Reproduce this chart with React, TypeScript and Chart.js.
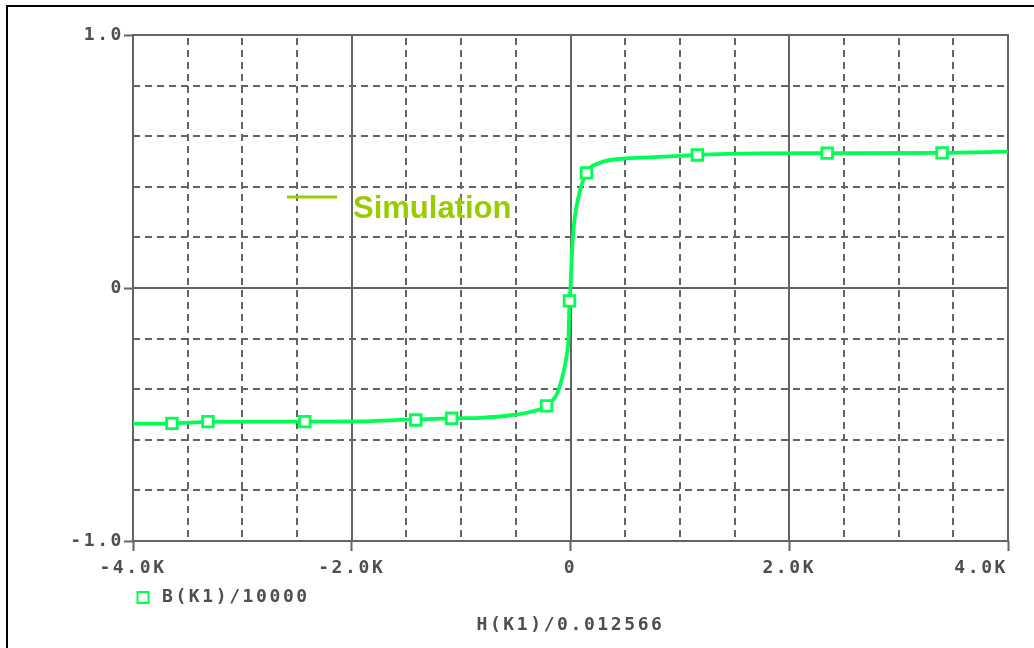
import React, { useEffect, useRef } from "react";
import { Chart, registerables } from "chart.js";

Chart.register(...registerables);

// ---- data ----
const H_CURVE = [-4000, -3644, -3300, -2400, -1900, -1600, -1087, -830, -530, -370, -220, -120, -75, -37, -18, -9, 0, 9, 27, 73, 146, 265, 510, 721, 1000, 1160, 1700, 2350, 3400, 4000];
const B_CURVE = [-0.536, -0.535, -0.529, -0.528, -0.527, -0.522, -0.515, -0.513, -0.502, -0.49, -0.466, -0.415, -0.352, -0.273, -0.194, -0.05, 0.0, 0.099, 0.229, 0.36, 0.455, 0.494, 0.512, 0.516, 0.522, 0.526, 0.532, 0.533, 0.534, 0.539];

const H_MARKERS = [-3644, -3315, -2429, -1415, -1087, -219, -9, 146, 1160, 2347, 3397];
const B_MARKERS = [-0.535, -0.528, -0.528, -0.522, -0.515, -0.466, -0.051, 0.455, 0.526, 0.533, 0.534];

const X_MIN = -4000;
const X_MAX = 4000;
const X_STEP = 500;
const X_TICK_VALUES = [-4000, -2000, 0, 2000, 4000];
const X_TICK_LABELS = ["-4.0K", "-2.0K", "0", "2.0K", "4.0K"];

const Y_MIN = -1;
const Y_MAX = 1;
const Y_STEP = 0.2;
const Y_TICK_VALUES = [-1, 0, 1];
const Y_TICK_LABELS = ["-1.0", "0", "1.0"];

const SERIES_NAME = "B(K1)/10000";
const X_TITLE = "H(K1)/0.012566";
const ANNOTATION = "Simulation";

// ---- styles ----
const GREEN = "#00ff55";
const ANNOT_COLOR = "#99cc00";
const AXIS_GREY = "#646464";
const TEXT_GREY = "#4e4e4e";
const MONO = "'DejaVu Sans Mono', monospace";
const FONT_SIZE = 18;
const LETTER_SPACING = "2.6px";

const near = (a: number, b: number) => Math.abs(a - b) < 1e-6;
const isMajor = (list: number[], v: number) => list.some((m) => near(m, v));
const labelFor = (vals: number[], labels: string[], v: number) => {
  const i = vals.findIndex((m) => near(m, v));
  return i >= 0 ? labels[i] : "";
};

const pspicePlugin = {
  id: "pspice",
  beforeDraw(chart: any) {
    chart.ctx.letterSpacing = LETTER_SPACING;
  },
  beforeDatasetsDraw(chart: any) {
    const { ctx, chartArea, scales } = chart;
    const { left, right, top, bottom } = chartArea;
    const x = scales.x;
    const y = scales.y;
    ctx.save();
    // dashed minor grid
    ctx.strokeStyle = AXIS_GREY;
    ctx.lineWidth = 2;
    ctx.setLineDash([7, 5]);
    x.ticks.forEach((t: any) => {
      if (isMajor(X_TICK_VALUES, t.value)) return;
      const px = Math.round(x.getPixelForValue(t.value));
      ctx.beginPath();
      ctx.moveTo(px, top + 3);
      ctx.lineTo(px, bottom);
      ctx.stroke();
    });
    y.ticks.forEach((t: any) => {
      if (isMajor(Y_TICK_VALUES, t.value)) return;
      const py = Math.round(y.getPixelForValue(t.value));
      ctx.beginPath();
      ctx.moveTo(left, py);
      ctx.lineTo(right, py);
      ctx.stroke();
    });
    // solid major grid / frame
    ctx.setLineDash([]);
    ctx.lineWidth = 2;
    x.ticks.forEach((t: any) => {
      if (!isMajor(X_TICK_VALUES, t.value)) return;
      const px = Math.round(x.getPixelForValue(t.value));
      ctx.beginPath();
      ctx.moveTo(px, top - 1);
      ctx.lineTo(px, bottom + 1);
      ctx.stroke();
    });
    y.ticks.forEach((t: any) => {
      if (!isMajor(Y_TICK_VALUES, t.value)) return;
      const py = Math.round(y.getPixelForValue(t.value));
      ctx.beginPath();
      ctx.moveTo(left - 1, py);
      ctx.lineTo(right + 1, py);
      ctx.stroke();
    });
    ctx.restore();
  },
  afterDraw(chart: any) {
    const { ctx, chartArea } = chart;
    ctx.save();
    // legend entry below the axis
    const lx = chartArea.left + 4;
    const ly = 597;
    ctx.strokeStyle = GREEN;
    ctx.lineWidth = 2;
    ctx.strokeRect(lx + 0.5, ly - 5, 11, 11);
    ctx.fillStyle = TEXT_GREY;
    ctx.font = `bold ${FONT_SIZE}px ${MONO}`;
    ctx.letterSpacing = LETTER_SPACING;
    ctx.textBaseline = "middle";
    ctx.textAlign = "left";
    ctx.fillText(SERIES_NAME, lx + 25, ly);
    // annotation
    ctx.strokeStyle = ANNOT_COLOR;
    ctx.lineWidth = 3;
    ctx.beginPath();
    ctx.moveTo(287, 197);
    ctx.lineTo(337, 197);
    ctx.stroke();
    ctx.letterSpacing = "0px";
    ctx.fillStyle = ANNOT_COLOR;
    ctx.font = "bold 31px 'Liberation Sans', Arial, sans-serif";
    ctx.textBaseline = "alphabetic";
    ctx.fillText(ANNOTATION, 353, 218);
    ctx.restore();
  },
};

export default function App() {
  const canvasRef = useRef<HTMLCanvasElement | null>(null);

  useEffect(() => {
    const canvas = canvasRef.current;
    if (!canvas) return;
    const curve = H_CURVE.map((h, i) => ({ x: h, y: B_CURVE[i] }));
    const marks = H_MARKERS.map((h, i) => ({ x: h, y: B_MARKERS[i] }));
    const tickFont = { family: MONO, size: FONT_SIZE, weight: "bold" };
    const chart = new Chart(canvas, {
      type: "line",
      data: {
        datasets: [
          {
            label: SERIES_NAME,
            data: marks,
            showLine: false,
            pointStyle: "rect",
            pointRadius: 7.5,
            pointBorderWidth: 2.8,
            pointBorderColor: GREEN,
            pointBackgroundColor: "#ffffff",
            order: 0,
          },
          {
            label: SERIES_NAME,
            data: curve,
            borderColor: GREEN,
            borderWidth: 3.8,
            pointRadius: 0,
            cubicInterpolationMode: "monotone",
            fill: false,
            order: 1,
          },
        ],
      },
      options: {
        responsive: false,
        maintainAspectRatio: false,
        animation: false,
        events: [],
        layout: { padding: { left: 0, right: 26, top: 35, bottom: 0 } },
        plugins: { legend: { display: false }, tooltip: { enabled: false }, title: { display: false } },
        scales: {
          x: {
            type: "linear",
            min: X_MIN,
            max: X_MAX,
            afterFit: (s: any) => {
              s.height = 107;
              s.paddingLeft = 0;
              s.paddingRight = 0;
            },
            ticks: {
              stepSize: X_STEP,
              autoSkip: false,
              maxRotation: 0,
              padding: 7,
              color: TEXT_GREY,
              font: tickFont,
              // the last label sits flush with the right edge (drawn by xEdge)
              callback: (v: any) => (near(Number(v), X_MAX) ? "" : labelFor(X_TICK_VALUES, X_TICK_LABELS, Number(v))),
            },
            grid: {
              drawOnChartArea: false,
              drawTicks: true,
              tickLength: 10,
              tickWidth: 2,
              tickColor: (c: any) => (isMajor(X_TICK_VALUES, c.tick.value) ? AXIS_GREY : "rgba(0,0,0,0)"),
            },
            border: { display: false },
            title: {
              display: true,
              text: X_TITLE,
              color: TEXT_GREY,
              font: tickFont,
              padding: { top: 0, bottom: 12 },
            },
          },
          xEdge: {
            type: "linear",
            axis: "x",
            position: { y: Y_MIN },
            min: X_MIN,
            max: X_MAX,
            ticks: {
              stepSize: X_STEP,
              autoSkip: false,
              maxRotation: 0,
              align: "end",
              padding: 17,
              color: TEXT_GREY,
              font: tickFont,
              callback: (v: any) => (near(Number(v), X_MAX) ? labelFor(X_TICK_VALUES, X_TICK_LABELS, Number(v)) : ""),
            },
            grid: { display: false, drawTicks: false },
            border: { display: false },
          },
          y: {
            type: "linear",
            min: Y_MIN,
            max: Y_MAX,
            afterFit: (s: any) => {
              s.width = 133;
            },
            ticks: {
              stepSize: Y_STEP,
              autoSkip: false,
              padding: 0,
              color: TEXT_GREY,
              font: tickFont,
              callback: (v: any) => labelFor(Y_TICK_VALUES, Y_TICK_LABELS, Number(v)),
            },
            grid: {
              drawOnChartArea: false,
              drawTicks: true,
              tickLength: 9,
              tickWidth: 2,
              tickColor: (c: any) => (isMajor(Y_TICK_VALUES, c.tick.value) ? AXIS_GREY : "rgba(0,0,0,0)"),
            },
            border: { display: false },
          },
        },
      },
      plugins: [pspicePlugin],
    } as any);
    return () => chart.destroy();
  }, []);

  return (
    <div style={{ position: "fixed", left: 0, top: 0, width: 1034, height: 648, background: "#ffffff", overflow: "hidden" }}>
      <canvas ref={canvasRef} width={1034} height={648} style={{ display: "block" }} />
      <div
        style={{
          position: "absolute",
          left: 6,
          top: 5,
          right: 0,
          bottom: 0,
          borderTop: "2px solid #000",
          borderLeft: "2px solid #000",
          pointerEvents: "none",
        }}
      />
    </div>
  );
}
